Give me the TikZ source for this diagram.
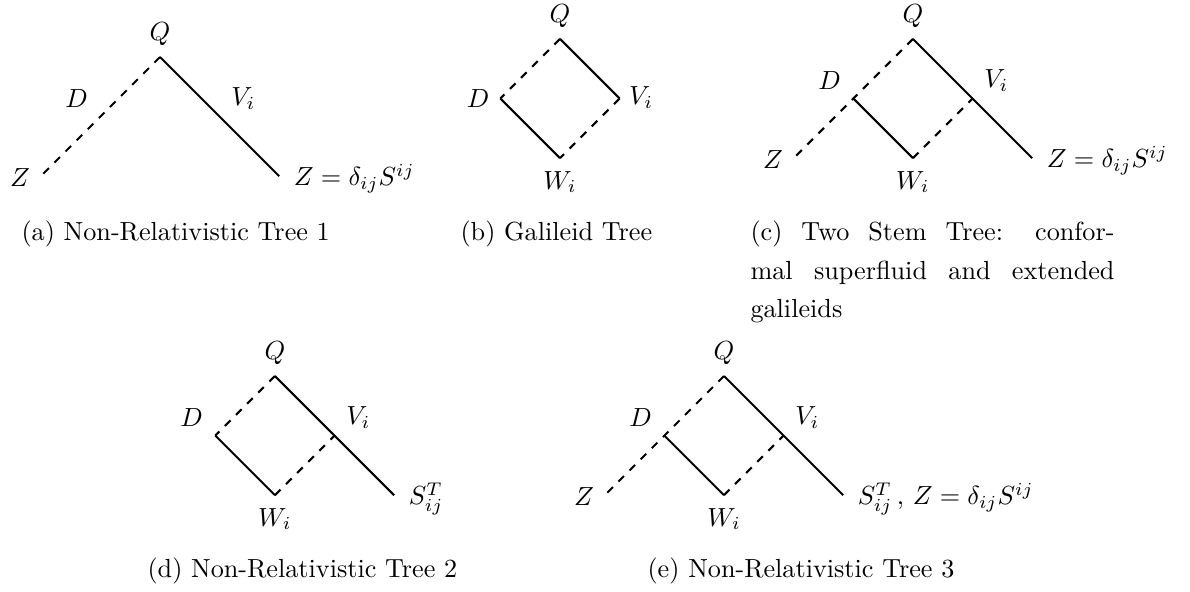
\documentclass[tikz,border=0pt]{standalone}
\usepackage{amsmath, amssymb}
\usepackage{xcolor}

\tikzset{
  stem/.style={thick},
  twig/.style={thick, dashed},
  endlabel/.style={anchor=base west, inner sep=0pt},
  subcap/.style={anchor=base west, inner sep=0pt},
}

\begin{document}
\begin{tikzpicture}
  \useasboundingbox (0,0) rectangle (15.97,-7.94);

  % (a) Non-Relativistic Tree 1
  \begin{scope}[shift={(2.147,-0.765)}]
    \coordinate (aQ) at (0,0);
    \coordinate (aZ) at (-1.6,-1.6);
    \coordinate (aS) at (1.6,-1.6);

    \draw[twig] (aQ) -- (aZ);
    \draw[stem] (aQ) -- (aS);

    \node (aQl) at (0,0.31) {$Q$};
    \node (aDl) at (-1.12,-0.56) {$D$};
    \node (aVl) at (1.12,-0.56) {$V_i$};
    \node (aZl) at (-1.88,-1.62) {$Z$};
    \node[endlabel] (aSl) at (1.79,-1.73) {$Z = \delta_{ij}S^{ij}$};
    \node[subcap] (acap) at (-1.865,-2.469) {(a) Non-Relativistic Tree 1};
  \end{scope}

  % (b) Galileid Tree
  \begin{scope}[shift={(7.515,-0.523)}]
    \coordinate (bQ) at (0,0);
    \coordinate (bD) at (-0.8,-0.8);
    \coordinate (bV) at (0.8,-0.8);
    \coordinate (bW) at (0,-1.6);

    \draw[twig] (bQ) -- (bD);
    \draw[stem] (bQ) -- (bV);
    \draw[stem] (bD) -- (bW);
    \draw[twig] (bV) -- (bW);

    \node (bQl) at (0,0.31) {$Q$};
    \node (bDl) at (-1.10,-0.805) {$D$};
    \node (bVl) at (1.09,-0.79) {$V_i$};
    \node (bWl) at (0,-1.92) {$W_i$};
    \node[subcap] (bcap) at (-1.342,-2.711) {(b) Galileid Tree};
  \end{scope}

  % (c) Two Stem Tree
  \begin{scope}[shift={(12.252,-0.523)}]
    \coordinate (cQ) at (0,0);
    \coordinate (cJ) at (-0.8,-0.8);
    \coordinate (cZ) at (-1.6,-1.6);
    \coordinate (cW) at (0,-1.6);
    \coordinate (cK) at (0.8,-0.8);
    \coordinate (cS) at (1.6,-1.6);

    \draw[twig] (cQ) -- (cJ) -- (cZ);
    \draw[stem] (cJ) -- (cW);
    \draw[twig] (cW) -- (cK);
    \draw[stem] (cQ) -- (cS);

    \node (cQl) at (0,0.31) {$Q$};
    \node (cDl) at (-1.12,-0.56) {$D$};
    \node (cVl) at (1.12,-0.56) {$V_i$};
    \node (cZl) at (-1.88,-1.62) {$Z$};
    \node (cWl) at (0,-1.92) {$W_i$};
    \node[endlabel] (cSl) at (1.79,-1.73) {$Z = \delta_{ij}S^{ij}$};
    \node[subcap, text width=139pt, align=justify,
      font={\linespread{1.22}\selectfont}] (ccap) at (-2.187,-2.711)
      {(c) Two Stem Tree: confor-\linebreak mal superfluid and extended galileids};
  \end{scope}

  % (d) Non-Relativistic Tree 2
  \begin{scope}[shift={(3.690,-5.046)}]
    \coordinate (dQ) at (0,0);
    \coordinate (dD) at (-0.8,-0.8);
    \coordinate (dW) at (0,-1.6);
    \coordinate (dK) at (0.8,-0.8);
    \coordinate (dS) at (1.6,-1.6);

    \draw[twig] (dQ) -- (dD);
    \draw[stem] (dD) -- (dW);
    \draw[twig] (dW) -- (dK);
    \draw[stem] (dQ) -- (dS);

    \node (dQl) at (0,0.31) {$Q$};
    \node (dDl) at (-1.12,-0.56) {$D$};
    \node (dVl) at (1.12,-0.56) {$V_i$};
    \node (dWl) at (0,-1.92) {$W_i$};
    \node[endlabel] (dSl) at (1.79,-1.73) {$S^T_{ij}$};
    \node[subcap] (dcap) at (-1.717,-2.70) {(d) Non-Relativistic Tree 2};
  \end{scope}

  % (e) Non-Relativistic Tree 3
  \begin{scope}[shift={(9.716,-5.046)}]
    \coordinate (eQ) at (0,0);
    \coordinate (eJ) at (-0.8,-0.8);
    \coordinate (eZ) at (-1.6,-1.6);
    \coordinate (eW) at (0,-1.6);
    \coordinate (eK) at (0.8,-0.8);
    \coordinate (eS) at (1.6,-1.6);

    \draw[twig] (eQ) -- (eJ) -- (eZ);
    \draw[stem] (eJ) -- (eW);
    \draw[twig] (eW) -- (eK);
    \draw[stem] (eQ) -- (eS);

    \node (eQl) at (0,0.31) {$Q$};
    \node (eDl) at (-1.12,-0.56) {$D$};
    \node (eVl) at (1.12,-0.56) {$V_i$};
    \node (eZl) at (-1.88,-1.62) {$Z$};
    \node (eWl) at (0,-1.92) {$W_i$};
    \node[endlabel] (eSl) at (1.79,-1.73) {$S^T_{ij}$\,, $Z = \delta_{ij}S^{ij}$};
    \node[subcap] (ecap) at (-1.033,-2.70) {(e) Non-Relativistic Tree 3};
  \end{scope}
\end{tikzpicture}
\end{document}
